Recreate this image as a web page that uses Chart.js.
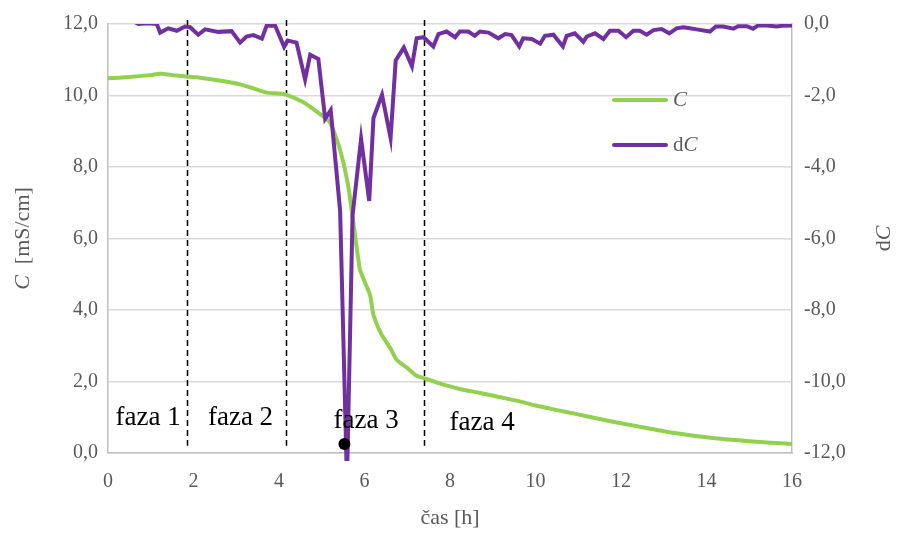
<!DOCTYPE html>
<html>
<head>
<meta charset="utf-8">
<script src="https://cdn.jsdelivr.net/npm/chart.js@4.4.1/dist/chart.umd.min.js"></script>
<style>
  html, body { margin: 0; padding: 0; background: #fff; }
  #wrap { width: 900px; height: 533px; }
</style>
</head>
<body>
<div id="wrap"><canvas id="chart" width="900" height="533"></canvas></div>
<script>
// conductivity C [mS/cm] vs time [h]
const cTime = [0, 0.5, 1.0, 1.22, 1.6, 2.07, 2.6, 3.09, 3.4, 3.71, 4.14, 4.57, 4.96, 5.19, 5.43, 5.62, 5.74, 5.89, 6.0, 6.13, 6.21, 6.4, 6.6, 6.75, 6.99, 7.22, 7.45, 7.69, 8.23, 8.7, 9.17, 9.6, 10.0, 10.5, 11.0, 11.5, 12.0, 12.5, 13.0, 13.5, 14.0, 14.5, 15.0, 15.5, 16.0];
const cValues = [10.48, 10.52, 10.57, 10.61, 10.56, 10.51, 10.42, 10.31, 10.2, 10.08, 10.03, 9.81, 9.48, 9.25, 8.47, 7.46, 6.44, 5.15, 4.8, 4.42, 3.86, 3.31, 2.94, 2.61, 2.39, 2.16, 2.07, 1.97, 1.79, 1.68, 1.56, 1.45, 1.33, 1.2, 1.08, 0.95, 0.83, 0.72, 0.61, 0.52, 0.44, 0.38, 0.33, 0.29, 0.25];

// derivative dC vs time [h]
const dcTime = [0, 0.4, 0.71, 0.94, 1.14, 1.22, 1.41, 1.61, 1.8, 1.92, 2.11, 2.27, 2.58, 2.89, 3.09, 3.24, 3.4, 3.6, 3.71, 3.91, 4.12, 4.2, 4.41, 4.61, 4.73, 4.92, 5.08, 5.21, 5.43, 5.59, 5.72, 5.92, 6.11, 6.21, 6.41, 6.61, 6.73, 6.92, 7.11, 7.22, 7.38, 7.61, 7.73, 7.92, 8.12, 8.23, 8.43, 8.58, 8.7, 8.9, 9.13, 9.29, 9.44, 9.62, 9.71, 9.91, 10.11, 10.22, 10.42, 10.64, 10.73, 10.92, 11.12, 11.2, 11.39, 11.59, 11.74, 11.94, 12.12, 12.29, 12.44, 12.6, 12.76, 12.95, 13.13, 13.3, 13.46, 13.61, 13.77, 14.08, 14.22, 14.39, 14.63, 14.74, 14.94, 15.09, 15.21, 15.41, 15.64, 15.76, 16.0];
const dcValues = [0.3, 0.2, 0, 0.02, 0, -0.24, -0.12, -0.19, -0.07, -0.09, -0.3, -0.15, -0.22, -0.2, -0.52, -0.35, -0.31, -0.41, -0.05, -0.05, -0.64, -0.46, -0.52, -1.55, -0.86, -0.98, -2.65, -2.41, -5.23, -12.8, -5.36, -3.21, -4.95, -2.63, -1.98, -3.19, -1.02, -0.66, -1.18, -0.4, -0.37, -0.63, -0.28, -0.21, -0.37, -0.21, -0.21, -0.33, -0.21, -0.24, -0.4, -0.28, -0.31, -0.63, -0.4, -0.42, -0.55, -0.33, -0.3, -0.63, -0.33, -0.26, -0.5, -0.35, -0.26, -0.42, -0.19, -0.19, -0.37, -0.19, -0.19, -0.3, -0.17, -0.14, -0.26, -0.12, -0.09, -0.12, -0.15, -0.21, -0.07, -0.07, -0.13, -0.06, -0.06, -0.13, -0.04, -0.04, -0.07, -0.05, -0.04];

// marked point (minimum of dC)
const markTime = [5.53];
const markValue = [0.25];

// phase boundaries and labels
const phaseBounds = [1.85, 4.16, 7.39];
const phaseLabels = ["faza 1", "faza 2", "faza 3", "faza 4"];
const phaseLabelTime = [0.94, 3.1, 6.04, 8.75];
const phaseLabelLevel = [0.78, 0.78, 0.7, 0.63];

const xTicks = [0, 2, 4, 6, 8, 10, 12, 14, 16];

const GREEN = "#92d050";
const PURPLE = "#7030a0";
const TEXT = "#595959";
const SERIF = "'Liberation Serif', 'DejaVu Serif', serif";

const fmt = (v) => v.toFixed(1).replace(".", ",");
const toPoints = (xs, ys) => xs.map((x, i) => ({ x, y: ys[i] }));

const overlay = {
  id: "overlay",
  beforeDatasetsDraw(chart) {
    const { ctx, chartArea, scales } = chart;
    ctx.save();
    ctx.strokeStyle = "#000";
    ctx.lineWidth = 1.5;
    ctx.setLineDash([6, 4]);
    const bottom = scales.y.getPixelForValue(0.2);
    phaseBounds.forEach((t) => {
      const x = Math.round(scales.x.getPixelForValue(t)) + 0.5;
      ctx.beginPath();
      ctx.moveTo(x, chartArea.top - 4);
      ctx.lineTo(x, bottom);
      ctx.stroke();
    });
    ctx.restore();
  },
  afterDraw(chart) {
    const { ctx, chartArea, scales } = chart;
    ctx.save();
    ctx.fillStyle = "#000";
    ctx.textAlign = "center";
    ctx.textBaseline = "alphabetic";
    ctx.font = `27px ${SERIF}`;
    phaseLabels.forEach((label, i) => {
      ctx.fillText(label, scales.x.getPixelForValue(phaseLabelTime[i]), scales.y.getPixelForValue(phaseLabelLevel[i]));
    });

    // legend
    const legend = [
      { color: GREEN, parts: [["C", true]], y: 100 },
      { color: PURPLE, parts: [["d", false], ["C", true]], y: 145 },
    ];
    legend.forEach((item) => {
      ctx.strokeStyle = item.color;
      ctx.lineWidth = 4;
      ctx.lineCap = "round";
      ctx.beginPath();
      ctx.moveTo(614, item.y);
      ctx.lineTo(666, item.y);
      ctx.stroke();
      let x = 673;
      ctx.fillStyle = TEXT;
      ctx.textAlign = "left";
      ctx.textBaseline = "middle";
      item.parts.forEach(([txt, italic]) => {
        ctx.font = `${italic ? "italic " : ""}21px ${SERIF}`;
        ctx.fillText(txt, x, item.y);
        x += ctx.measureText(txt).width;
      });
    });

    // axis titles
    const midY = (chartArea.top + chartArea.bottom) / 2;
    const drawRotated = (cx, cy, parts) => {
      ctx.save();
      ctx.translate(cx, cy);
      ctx.rotate(-Math.PI / 2);
      ctx.textBaseline = "middle";
      ctx.textAlign = "left";
      let total = 0;
      parts.forEach(([txt, italic]) => {
        ctx.font = `${italic ? "italic " : ""}22px ${SERIF}`;
        total += ctx.measureText(txt).width;
      });
      let x = -total / 2;
      parts.forEach(([txt, italic]) => {
        ctx.font = `${italic ? "italic " : ""}22px ${SERIF}`;
        ctx.fillText(txt, x, 0);
        x += ctx.measureText(txt).width;
      });
      ctx.restore();
    };
    ctx.fillStyle = TEXT;
    drawRotated(23, midY, [["C", true], ["  [mS/cm]", false]]);
    drawRotated(884, midY, [["d", false], ["C", true]]);

    ctx.font = `22px ${SERIF}`;
    ctx.textAlign = "center";
    ctx.textBaseline = "middle";
    ctx.fillText("čas [h]", (chartArea.left + chartArea.right) / 2, 518);
    ctx.restore();
  },
};

new Chart(document.getElementById("chart"), {
  type: "line",
  data: {
    datasets: [
      {
        label: "mark",
        type: "scatter",
        data: toPoints(markTime, markValue),
        yAxisID: "y",
        pointRadius: 6,
        pointBackgroundColor: "#000",
        pointBorderWidth: 0,
        order: 0,
      },
      {
        label: "dC",
        data: toPoints(dcTime, dcValues),
        yAxisID: "y2",
        borderColor: PURPLE,
        borderWidth: 4,
        pointRadius: 0,
        tension: 0,
        clip: { left: 0, top: 0, right: 2, bottom: 8 },
        order: 1,
      },
      {
        label: "C",
        data: toPoints(cTime, cValues),
        yAxisID: "y",
        borderColor: GREEN,
        borderWidth: 4,
        pointRadius: 0,
        tension: 0.2,
        order: 2,
      },
    ],
  },
  options: {
    responsive: false,
    animation: false,
    layout: { padding: { top: 19, left: 0, right: 0, bottom: 0 } },
    plugins: {
      legend: { display: false },
      tooltip: { enabled: false },
    },
    scales: {
      x: {
        type: "linear",
        min: 0,
        max: 16,
        afterBuildTicks: (scale) => { scale.ticks = xTicks.map((value) => ({ value })); },
        afterFit: (scale) => { scale.height = 80; },
        grid: { display: false, drawTicks: false },
        border: { display: true, color: "#bfbfbf", width: 1.5 },
        ticks: { color: TEXT, font: { family: SERIF, size: 20 }, padding: 17 },
      },
      y: {
        position: "left",
        min: 0,
        max: 12,
        afterFit: (scale) => { scale.width = 108; },
        grid: { color: "#d9d9d9", lineWidth: 1.5, drawTicks: false },
        border: { display: true, color: "#bfbfbf", width: 1.5 },
        ticks: { stepSize: 2, color: TEXT, font: { family: SERIF, size: 20 }, padding: 10, callback: (v) => fmt(v) },
      },
      y2: {
        position: "right",
        min: -12,
        max: 0,
        afterFit: (scale) => { scale.width = 108; },
        grid: { display: false, drawTicks: false },
        border: { display: true, color: "#bfbfbf", width: 1.5 },
        ticks: { stepSize: 2, color: TEXT, font: { family: SERIF, size: 20 }, padding: 12, callback: (v) => fmt(v) },
      },
    },
  },
  plugins: [overlay],
});
</script>
</body>
</html>
